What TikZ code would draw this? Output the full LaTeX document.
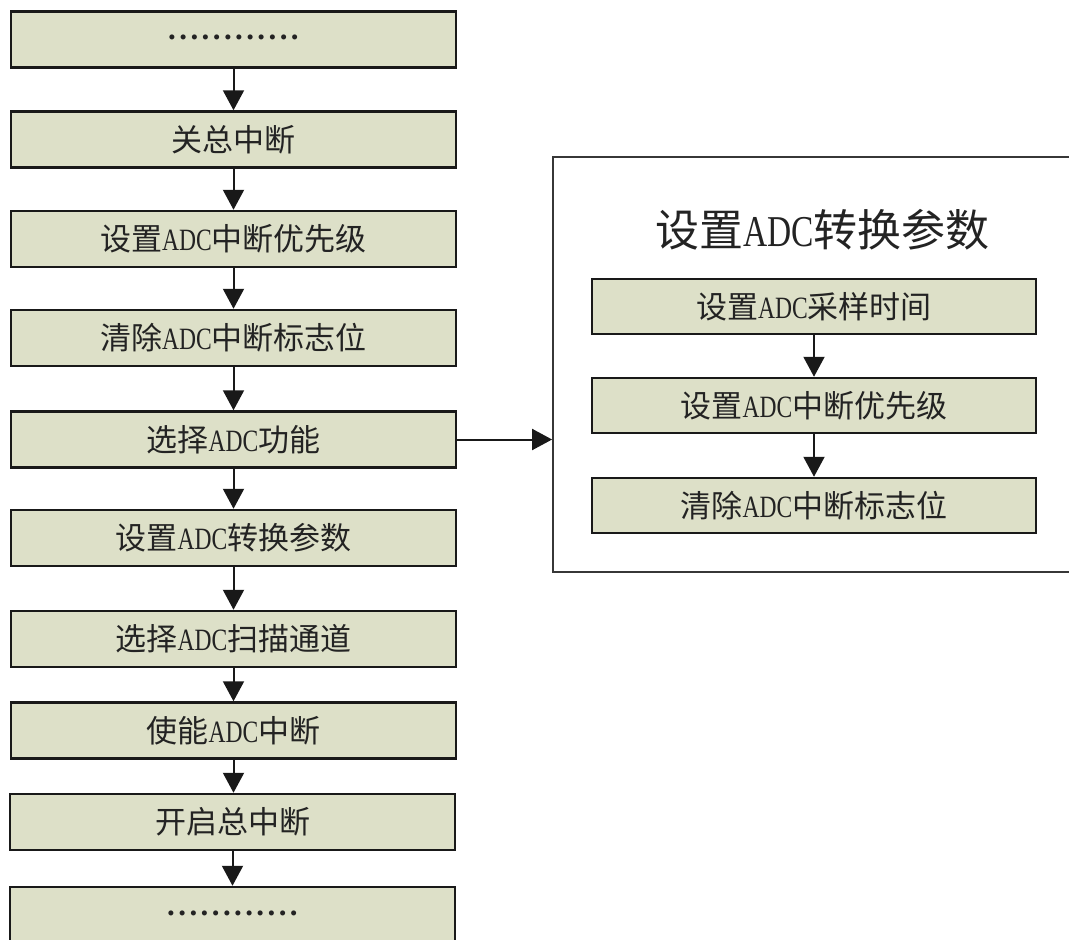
\documentclass[tikz,border=0pt]{standalone}
\usepackage{graphicx}
\usepackage{fontspec}
\setmainfont{Liberation Serif}
\newfontfamily\cjk{Noto Sans CJK SC}
\newfontfamily\dotfont[LetterSpace=11]{Liberation Serif Bold}
\usetikzlibrary{arrows.meta}
\definecolor{boxfill}{RGB}{221,224,200}
\definecolor{boxline}{RGB}{25,25,25}
\definecolor{outline}{RGB}{55,55,55}
\definecolor{txt}{RGB}{35,35,35}
\newcommand{\adctxt}{{\rmfamily\scalebox{0.76}[1]{ADC}}}
\newcommand{\dotrow}{\raisebox{4pt}{\dotfont ............}}
\begin{document}
\begin{tikzpicture}[x=1pt,y=-1pt,
  stepbox/.style={draw=boxline, line width=2.5pt, fill=boxfill,
    minimum width=445pt, minimum height=56pt, inner sep=0pt,
    text=txt, font=\cjk\fontsize{31}{36}\selectfont},
  substep/.style={stepbox, minimum width=444pt, minimum height=55pt},
  conn/.style={draw=boxline, line width=2pt, -{Triangle[width=21pt,length=20pt]}},
  panel/.style={draw=outline, line width=1.8pt, fill=white,
    minimum width=518pt, minimum height=415pt, inner sep=0pt},
  titletext/.style={text=txt, inner sep=0pt, font=\cjk\fontsize{44}{50}\selectfont}
]
\useasboundingbox (0,0) rectangle (1069,940);
% left column
\node[stepbox] (b1)  at (233.5, 39.5) {\dotrow};
\node[stepbox] (b2)  at (233.5,139.5) {关总中断};
\node[stepbox] (b3)  at (233.5,239)   {设置\adctxt 中断优先级};
\node[stepbox] (b4)  at (233.5,338)   {清除\adctxt 中断标志位};
\node[stepbox] (b5)  at (233.5,439.5) {选择\adctxt 功能};
\node[stepbox] (b6)  at (233.5,538)   {设置\adctxt 转换参数};
\node[stepbox] (b7)  at (233.5,639)   {选择\adctxt 扫描通道};
\node[stepbox] (b8)  at (233.5,730.5) {使能\adctxt 中断};
\node[stepbox] (b9)  at (232.5,822)   {开启总中断};
\node[stepbox] (b10) at (232.5,915)   {\dotrow};
\foreach \a/\b in {b1/b2,b2/b3,b3/b4,b4/b5,b5/b6,b6/b7,b7/b8,b9/b10}
  \draw[conn] (\a.south) -- (\b.north);
\draw[conn] (b8.south) -- (b8.south |- b9.north);
% right panel
\node[panel] (outer) at (812,364.5) {};
\node[titletext] (title) at (822.5,230) {设置\adctxt 转换参数};
\node[substep] (s1) at (814,306.5) {设置\adctxt 采样时间};
\node[substep] (s2) at (814,405.5) {设置\adctxt 中断优先级};
\node[substep] (s3) at (814,505.5) {清除\adctxt 中断标志位};
\draw[conn] (s1.south) -- (s2.north);
\draw[conn] (s2.south) -- (s3.north);
\draw[conn] (b5.east) -- (b5.east -| outer.west);
\end{tikzpicture}
\end{document}
